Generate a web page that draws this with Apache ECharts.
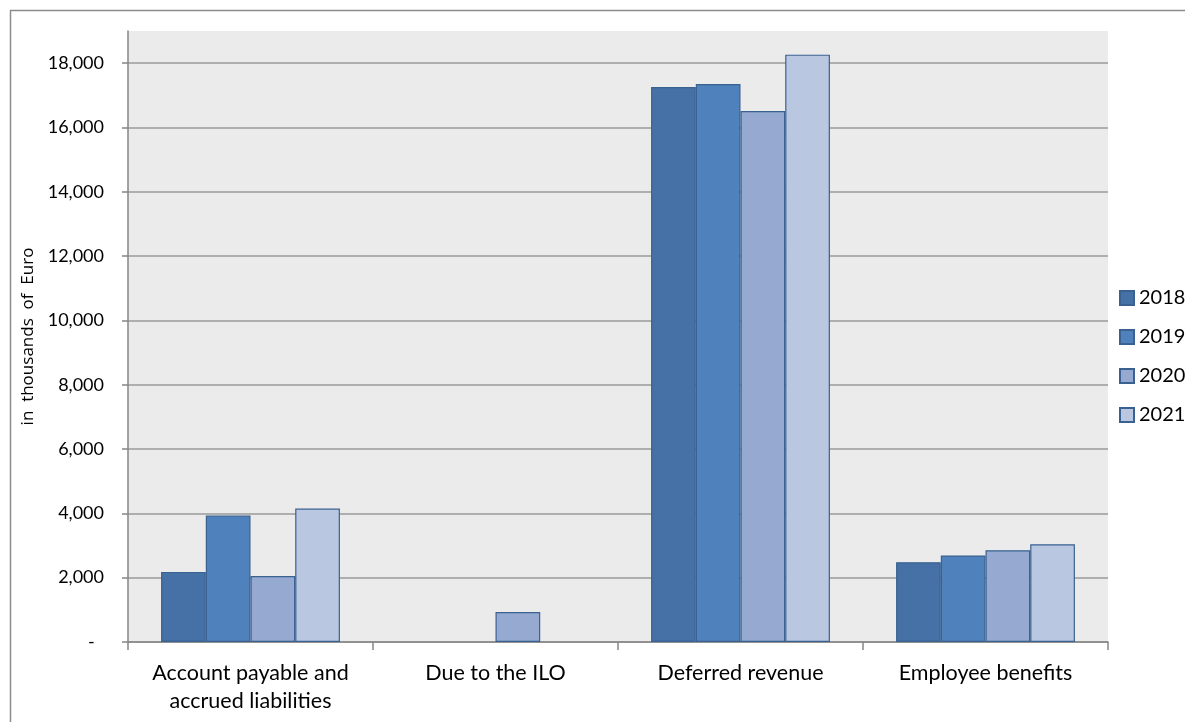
<!DOCTYPE html>
<html>
<head>
<meta charset="utf-8">
<script src="https://cdn.jsdelivr.net/npm/echarts@6/dist/echarts.min.js"></script>
<style>
html,body{margin:0;padding:0;background:#fff;}
#chart{width:1185px;height:722px;}
</style>
</head>
<body>
<div id="chart"></div>
<script>
const categories = ['Account payable and\naccrued liabilities', 'Due to the ILO', 'Deferred revenue', 'Employee benefits'];
const years = ['2018', '2019', '2020', '2021'];
const values2018 = [2180, 0, 17255, 2480];
const values2019 = [3930, 0, 17350, 2690];
const values2020 = [2050, 930, 16510, 2855];
const values2021 = [4150, 0, 18265, 3040];
const yTicks = [0, 2000, 4000, 6000, 8000, 10000, 12000, 14000, 16000, 18000];
const yMax = 19000;
const yAxisTitle = 'in  thousands  of  Euro';

const colors = ['#4571A6', '#4F81BD', '#95A9D1', '#BAC7E0'];
const seriesValues = [values2018, values2019, values2020, values2021];
const FONT = 'Lato, "Noto Sans", sans-serif';

const chart = echarts.init(document.getElementById('chart'), null, {renderer: 'canvas'});
const option = {
  animation: false,
  backgroundColor: '#ffffff',
  graphic: [{
    type: 'rect',
    shape: {x: 10.5, y: 10.5, width: 1300, height: 800},
    style: {fill: 'none', stroke: '#8c8c8c', lineWidth: 1.5},
    silent: true
  }],
  grid: {
    left: 128, top: 31, right: 77, bottom: 80,
    show: true, backgroundColor: '#EBEBEB', borderWidth: 0
  },
  legend: {
    orient: 'vertical',
    left: 1114, top: 283,
    itemWidth: 14, itemHeight: 14, itemGap: 19,
    icon: 'rect',
    textStyle: {fontFamily: FONT, fontSize: 20, color: '#000'},
    data: years
  },
  xAxis: {
    type: 'category',
    data: categories,
    axisLine: {lineStyle: {color: '#868686', width: 1.5}},
    axisTick: {show: true, length: 8, lineStyle: {color: '#868686', width: 1.5}},
    axisLabel: {fontFamily: FONT, fontSize: 21.5, color: '#000', margin: 17, lineHeight: 28, interval: 0}
  },
  yAxis: {
    type: 'value',
    min: 0, max: yMax, interval: 2000,
    name: yAxisTitle,
    nameLocation: 'middle',
    nameGap: 90,
    nameTextStyle: {fontFamily: '"Open Sans", sans-serif', fontSize: 17, color: '#000'},
    axisLine: {show: true, lineStyle: {color: '#868686', width: 1.5}},
    axisTick: {show: true, length: 6, customValues: yTicks, lineStyle: {color: '#868686', width: 1.5}},
    axisLabel: {
      fontFamily: FONT, fontSize: 18, color: '#000', margin: 24,
      customValues: yTicks,
      formatter: function (v) { return v === 0 ? '-  ' : v.toLocaleString('en-US'); }
    },
    splitLine: {show: true, lineStyle: {color: ['#9a9a9a','#9a9a9a','#9a9a9a','#9a9a9a','#9a9a9a','#9a9a9a','#9a9a9a','#9a9a9a','#9a9a9a','#9a9a9a','rgba(0,0,0,0)'], width: 1.5}}
  },
  series: years.map(function (y, i) {
    return {
      name: y,
      type: 'bar',
      data: seriesValues[i].map(function (v) { return v === 0 ? null : v; }),
      barGap: '0%',
      barCategoryGap: '27%',
      itemStyle: {color: colors[i], borderColor: '#3A6190', borderWidth: 1.2}
    };
  })
};
chart.setOption(option);
</script>
</body>
</html>
